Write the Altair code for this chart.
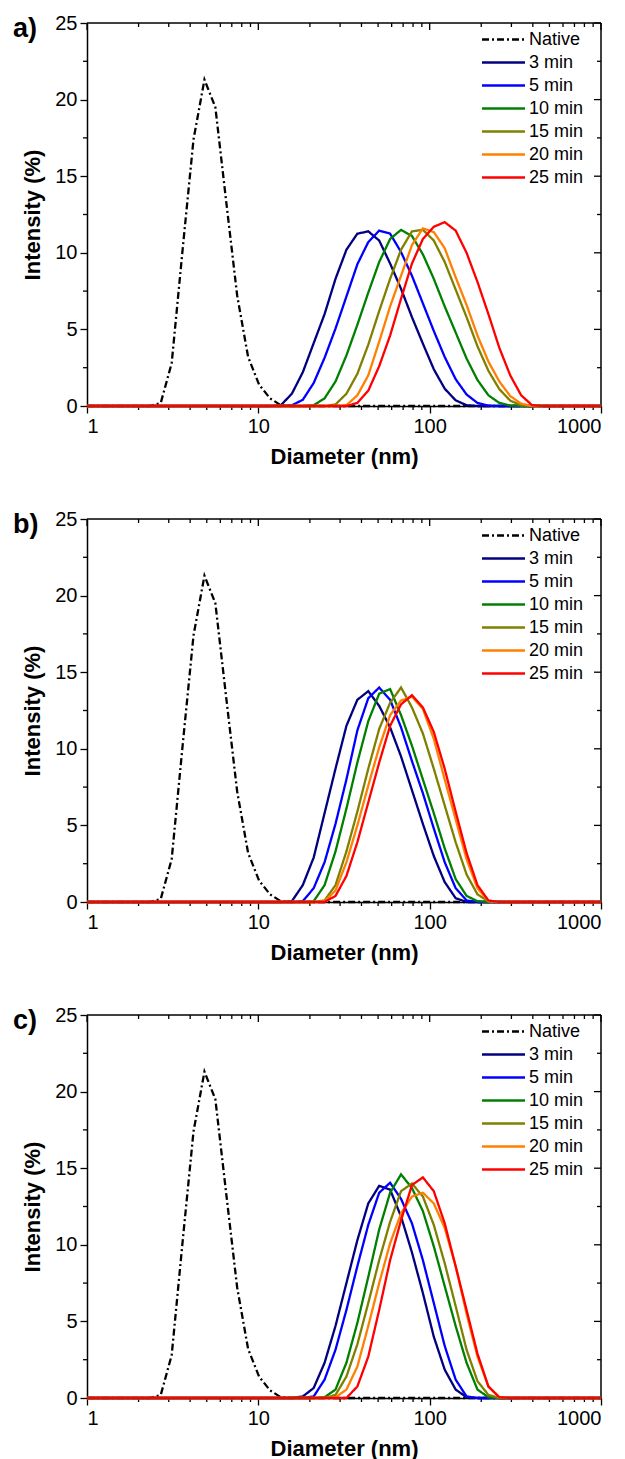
import altair as alt
import pandas as pd

# Size bins (nm) of the DLS intensity distribution
diameter = [0.965, 1.117, 1.294, 1.499, 1.735, 2.010, 2.327, 2.695, 3.121, 3.614,
            4.185, 4.847, 5.613, 6.500, 7.527, 8.717, 10.10, 11.70, 13.54, 15.69,
            18.17, 21.04, 24.36, 28.21, 32.67, 37.84, 43.82, 50.75, 58.77, 68.06,
            78.82, 91.28, 105.7, 122.4, 141.8, 164.2, 190.1, 220.2, 255.0, 295.3,
            342.0, 396.1, 458.7, 531.2, 615.1, 712.4, 825.0, 955.4, 1106]

series_names = ["Native", "3 min", "5 min", "10 min", "15 min", "20 min", "25 min"]
series_colors = ["#000000", "#000080", "#0000FF", "#008000", "#808000", "#FF8000", "#FF0000"]
series_dashes = [[7, 3, 2, 3], [1, 0], [1, 0], [1, 0], [1, 0], [1, 0], [1, 0]]

native = [0] * 7 + [0.2, 2.8, 10.2, 17.4, 21.3, 19.5, 13.3, 7.2, 3.2, 1.4, 0.5, 0.05] + [0] * 30

# panel a)
a_3 = [0] * 18 + [0.05, 0.8, 2.2, 4.1, 6.0, 8.3, 10.2, 11.25, 11.4, 10.8, 9.3, 7.65, 5.8, 4.07, 2.4, 1.13, 0.37, 0.05] + [0] * 13
a_5 = [0] * 19 + [0.05, 0.4, 1.5, 3.15, 5.05, 7.15, 9.25, 10.7, 11.45, 11.25, 10.05, 8.5, 6.7, 4.9, 3.2, 1.75, 0.75, 0.2, 0.02] + [0] * 11
a_10 = [0] * 21 + [0.05, 0.5, 1.6, 3.3, 5.3, 7.4, 9.4, 10.9, 11.5, 11.1, 9.9, 8.3, 6.5, 4.8, 3.1, 1.7, 0.7, 0.2, 0.03] + [0] * 9
a_15 = [0] * 23 + [0.1, 0.8, 2.1, 4.0, 6.2, 8.3, 10.2, 11.4, 11.5, 10.8, 9.4, 7.6, 5.8, 3.9, 2.3, 1.1, 0.35, 0.05] + [0] * 8
a_20 = [0] * 24 + [0.05, 0.7, 2.0, 4.2, 6.5, 8.5, 10.5, 11.6, 11.35, 10.3, 8.4, 6.6, 4.6, 2.9, 1.6, 0.65, 0.15] + [0] * 8
a_25 = [0] * 25 + [0.2, 1.0, 2.6, 4.6, 7.0, 9.3, 10.9, 11.7, 12.0, 11.45, 10.0, 8.1, 6.0, 3.8, 2.0, 0.7, 0.05] + [0] * 7

# panel b)
b_3 = [0] * 19 + [0.05, 1.1, 2.9, 5.8, 8.7, 11.5, 13.2, 13.76, 12.8, 11.4, 9.5, 7.3, 5.1, 3.0, 1.3, 0.25] + [0] * 14
b_5 = [0] * 20 + [0.05, 0.9, 2.6, 5.1, 8.0, 11.2, 13.3, 14.0, 13.2, 11.4, 9.2, 7.1, 4.8, 2.6, 0.9, 0.1] + [0] * 13
b_10 = [0] * 21 + [0.05, 1.1, 3.3, 6.1, 9.1, 11.8, 13.6, 13.9, 12.2, 10.2, 8.0, 5.8, 3.5, 1.5, 0.4, 0.05] + [0] * 12
b_15 = [0] * 22 + [0.1, 1.1, 3.3, 5.9, 8.7, 11.3, 13.0, 14.0, 12.7, 11.0, 8.7, 6.3, 3.9, 1.8, 0.5, 0.05] + [0] * 11
b_20 = [0] * 22 + [0.05, 0.75, 2.6, 5.0, 7.6, 10.1, 12.2, 13.15, 13.4, 12.6, 10.65, 8.0, 5.4, 2.8, 0.9, 0.05] + [0] * 11
b_25 = [0] * 23 + [0.4, 1.7, 3.9, 6.5, 9.1, 11.5, 12.9, 13.5, 12.7, 11.1, 8.7, 5.9, 3.2, 1.1, 0.1] + [0] * 11

# panel c)
c_3 = [0] * 20 + [0.1, 0.65, 2.3, 4.7, 7.5, 10.3, 12.7, 13.85, 13.6, 11.85, 9.5, 6.85, 4.0, 1.85, 0.55, 0.05] + [0] * 13
c_5 = [0] * 21 + [0.1, 1.2, 3.15, 5.75, 8.6, 11.3, 13.4, 14.05, 13.0, 11.4, 9.0, 6.2, 3.4, 1.2, 0.1] + [0] * 13
c_10 = [0] * 22 + [0.05, 0.55, 2.3, 4.9, 7.9, 11.0, 13.4, 14.6, 13.7, 12.2, 9.9, 7.3, 4.7, 2.3, 0.55, 0.05] + [0] * 11
c_15 = [0] * 23 + [0.2, 1.4, 3.5, 6.2, 9.0, 11.5, 13.5, 14.0, 13.15, 11.3, 8.8, 6.0, 3.15, 1.1, 0.2] + [0] * 11
c_20 = [0] * 23 + [0.05, 0.55, 2.05, 4.7, 7.5, 10.1, 12.05, 13.15, 13.4, 12.7, 11.1, 8.6, 5.5, 2.7, 0.75, 0.05] + [0] * 10
c_25 = [0] * 24 + [0, 0.75, 2.7, 5.75, 9.0, 11.6, 13.9, 14.4, 13.5, 11.4, 8.6, 5.75, 2.9, 0.75, 0.05] + [0] * 10

panel_labels = ["a)", "b)", "c)"]
x_major = [1, 10, 100, 1000]
x_minor = [2, 3, 4, 5, 6, 7, 8, 9, 20, 30, 40, 50, 60, 70, 80, 90,
           200, 300, 400, 500, 600, 700, 800, 900]
y_major = [0, 5, 10, 15, 20, 25]
y_minor = [2.5, 7.5, 12.5, 17.5, 22.5]

W, H = 514, 383
FONT = "Liberation Sans"


def panel(label, curves):
    rows = []
    for name, vals in zip(series_names, [native] + curves):
        for d, v in zip(diameter, vals):
            rows.append({"d": d, "v": v, "series": name})
    df = pd.DataFrame(rows)

    xs = alt.Scale(type="log", domain=[1, 1000], clamp=True)
    ys = alt.Scale(domain=[0, 25])
    x_axis = alt.Axis(values=x_major, format="d", title="Diameter (nm)", titlePadding=10)
    y_axis = alt.Axis(values=y_major, format="d", title="Intensity (%)", titlePadding=10)
    leg = alt.Legend(title=None, orient="none", legendX=404.5, legendY=4.6,
                     symbolType="M-2,0H2", symbolSize=462, symbolStrokeWidth=2.5,
                     labelFont=FONT, labelFontSize=18, labelColor="black", labelAlign="left",
                     labelOffset=13.5, padding=0, rowPadding=2)
    color = alt.Color("series:N", scale=alt.Scale(domain=series_names, range=series_colors), legend=leg)
    dash = alt.StrokeDash("series:N", scale=alt.Scale(domain=series_names, range=series_dashes), legend=leg)

    rule = dict(color="black", strokeWidth=1.5)
    frame = [
        alt.Chart(pd.DataFrame({"t": [0]})).mark_rule(**rule).encode(
            x=alt.value(0), x2=alt.value(W), y=alt.value(0)),
        alt.Chart(pd.DataFrame({"t": [0]})).mark_rule(**rule).encode(
            x=alt.value(W), y=alt.value(0), y2=alt.value(H)),
    ]

    layers = []
    for name in series_names:
        layers.append(
            alt.Chart(df).transform_filter(alt.datum.series == name)
            .mark_line(strokeWidth=2.3)
            .encode(x=alt.X("d:Q", scale=xs, axis=x_axis),
                    y=alt.Y("v:Q", scale=ys, axis=y_axis),
                    color=color, strokeDash=dash, order="d:Q")
        )

    tdx_minor = pd.DataFrame({"d": x_minor})
    tdx_major = pd.DataFrame({"d": x_major})
    tdy_minor = pd.DataFrame({"v": y_minor})
    tdy_major = pd.DataFrame({"v": y_major})
    trule = dict(color="black", strokeWidth=1.3)
    X = alt.X("d:Q", scale=xs, axis=x_axis)
    Y = alt.Y("v:Q", scale=ys, axis=y_axis)
    ticks = [
        alt.Chart(tdx_minor).mark_rule(**trule).encode(x=X, y=alt.value(H), y2=alt.value(H + 4)),
        alt.Chart(tdx_minor).mark_rule(**trule).encode(x=X, y=alt.value(0), y2=alt.value(4)),
        alt.Chart(tdx_major).mark_rule(**trule).encode(x=X, y=alt.value(0), y2=alt.value(7)),
        alt.Chart(tdy_minor).mark_rule(**trule).encode(y=Y, x=alt.value(-4), x2=alt.value(0)),
        alt.Chart(tdy_minor).mark_rule(**trule).encode(y=Y, x=alt.value(W - 4), x2=alt.value(W)),
        alt.Chart(tdy_major).mark_rule(**trule).encode(y=Y, x=alt.value(W - 7), x2=alt.value(W)),
    ]
    lab = alt.Chart(pd.DataFrame({"label": [label]})).mark_text(
        align="left", baseline="middle", fontSize=27, fontWeight="bold", font=FONT, color="black"
    ).encode(x=alt.value(-74), y=alt.value(6), text="label:N")

    return alt.layer(*frame, *ticks, *layers, lab).properties(width=W, height=H)


chart = alt.vconcat(
    panel(panel_labels[0], [a_3, a_5, a_10, a_15, a_20, a_25]),
    panel(panel_labels[1], [b_3, b_5, b_10, b_15, b_20, b_25]),
    panel(panel_labels[2], [c_3, c_5, c_10, c_15, c_20, c_25]),
    spacing=113, bounds="flush",
).resolve_scale(color="independent", strokeDash="independent").resolve_legend(
    color="independent", strokeDash="independent"
).properties(padding=5).configure_view(
    stroke=None
).configure_axis(
    domainColor="black", domainWidth=1.5, tickColor="black", tickWidth=1.3, tickSize=7,
    labelFont=FONT, labelFontSize=20, labelColor="black", labelPadding=3,
    titleFont=FONT, titleFontSize=22, titleFontWeight="bold", titleColor="black", grid=False,
)

chart.save("out.html", embed_options={"renderer": "svg", "actions": False})
